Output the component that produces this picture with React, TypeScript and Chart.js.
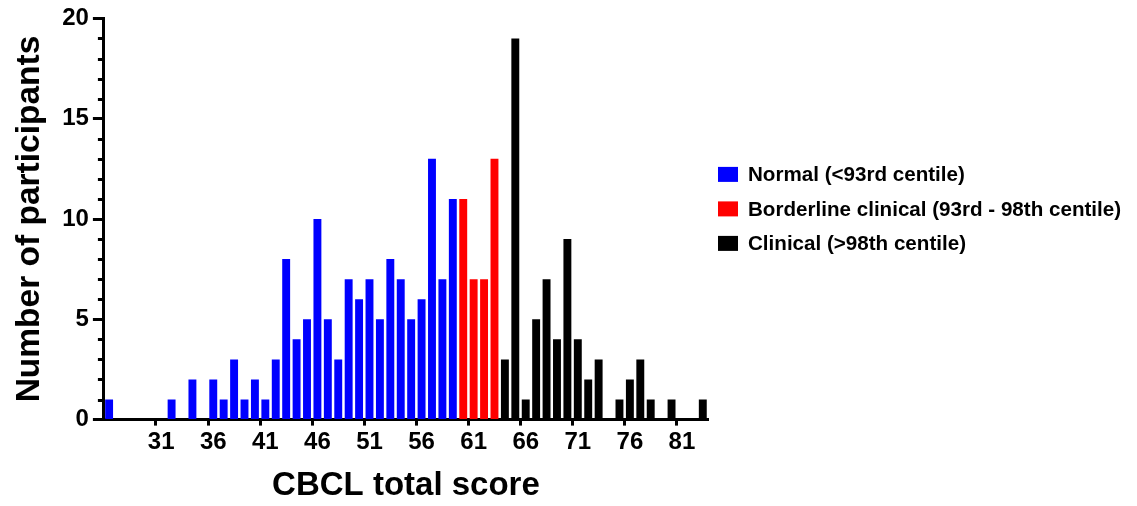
import React, { useEffect, useRef } from 'react';
import { Chart, registerables } from 'chart.js';

Chart.register(...registerables);

// Categories: CBCL total scores shown on the x axis
const scoreLabels = [
  '26', '27', '28', '29', '30', '31', '32', '33', '34', '35',
  '36', '37', '38', '39', '40', '41', '42', '43', '44', '45',
  '46', '47', '48', '49', '50', '51', '52', '53', '54', '55',
  '56', '57', '58', '59', '60', '61', '62', '63', '64', '65',
  '66', '67', '68', '69', '70', '71', '72', '73', '74', '75',
  '76', '77', '78', '79', '80', '81', '82', '83',
];

// Labelled x ticks
const xTickLabels = ['31', '36', '41', '46', '51', '56', '61', '66', '71', '76', '81'];

// Normal (<93rd centile)
const normalScores = ['26', '32', '34', '36', '37', '38', '39', '40', '41', '42', '43', '44', '45', '46', '47', '48', '49', '50', '51', '52', '53', '54', '55', '56', '57', '58', '59'];
const normalCounts = [1, 1, 2, 2, 1, 3, 1, 2, 1, 3, 8, 4, 5, 10, 5, 3, 7, 6, 7, 5, 8, 7, 5, 6, 13, 7, 11];

// Borderline clinical (93rd - 98th centile)
const borderlineScores = ['60', '61', '62', '63'];
const borderlineCounts = [11, 7, 7, 13];

// Clinical (>98th centile)
const clinicalScores = ['64', '65', '66', '67', '68', '69', '70', '71', '72', '73', '75', '76', '77', '78', '80', '83'];
const clinicalCounts = [3, 19, 1, 5, 7, 4, 9, 4, 2, 3, 1, 2, 3, 1, 1, 1];

// Y axis
const yMin = 0;
const yMax = 20;
const yMajorStep = 5;
const yMinorStep = 1;

const seriesNames = [
  'Normal (<93rd centile)',
  'Borderline clinical (93rd - 98th centile)',
  'Clinical (>98th centile)',
];
const seriesColors = ['#0000FF', '#FF0000', '#000000'];

const FONT = '"Liberation Sans", Arial, Helvetica, sans-serif';

const toPoints = (xs: string[], ys: number[]) => xs.map((x, i) => ({ x, y: ys[i] }));

const minorTicksPlugin = {
  id: 'minorTicks',
  afterDraw(chart: any) {
    const y = chart.scales.y;
    const ctx = chart.ctx;
    const left = chart.chartArea.left;
    ctx.save();
    ctx.strokeStyle = '#000';
    ctx.lineWidth = 3;
    for (let v = yMin; v <= yMax; v += yMinorStep) {
      if (v % yMajorStep === 0) continue;
      const py = Math.round(y.getPixelForValue(v)) + 0.5;
      ctx.beginPath();
      ctx.moveTo(left - 6, py);
      ctx.lineTo(left, py);
      ctx.stroke();
    }
    ctx.restore();
  },
};

const sideLegendPlugin = {
  id: 'sideLegend',
  afterDraw(chart: any) {
    const ctx = chart.ctx;
    const area = chart.chartArea;
    const x0 = area.right + 10;
    const y0 = area.top + 156;
    const rowGap = 34.5;
    ctx.save();
    ctx.font = `bold 20.6px ${FONT}`;
    ctx.textBaseline = 'middle';
    ctx.textAlign = 'left';
    chart.data.datasets.forEach((ds: any, i: number) => {
      const cy = y0 + i * rowGap;
      ctx.fillStyle = ds.backgroundColor;
      ctx.fillRect(x0, cy - 7.5, 20, 15);
      ctx.fillStyle = '#000';
      ctx.fillText(ds.label, x0 + 30, cy + 1);
    });
    ctx.restore();
  },
};

export default function App() {
  const canvasRef = useRef<HTMLCanvasElement | null>(null);

  useEffect(() => {
    if (!canvasRef.current) return;
    const datasets = [
      toPoints(normalScores, normalCounts),
      toPoints(borderlineScores, borderlineCounts),
      toPoints(clinicalScores, clinicalCounts),
    ].map((data, i) => ({
      label: seriesNames[i],
      data,
      backgroundColor: seriesColors[i],
      borderWidth: 0,
      barPercentage: 0.76,
      categoryPercentage: 1,
    }));

    const chart = new Chart(canvasRef.current, {
      type: 'bar',
      data: { labels: scoreLabels, datasets },
      plugins: [minorTicksPlugin, sideLegendPlugin],
      options: {
        animation: false,
        responsive: true,
        maintainAspectRatio: false,
        layout: { padding: { left: 10, right: 429, top: 4, bottom: 0 } },
        plugins: {
          legend: { display: false },
          tooltip: { enabled: false },
        },
        scales: {
          x: {
            type: 'category',
            stacked: true,
            offset: true,
            border: { display: true, color: '#000', width: 3 },
            grid: {
              drawOnChartArea: false,
              drawTicks: true,
              tickLength: 6,
              tickWidth: 3,
              tickColor: (c: any) =>
                c.tick && xTickLabels.includes(String(c.tick.label)) ? '#000' : 'rgba(0,0,0,0)',
            },
            ticks: {
              autoSkip: false,
              maxRotation: 0,
              minRotation: 0,
              padding: 2,
              color: '#000',
              font: { family: FONT, size: 24, weight: 'bold' },
              callback: function (this: any, value: any) {
                const lbl = this.getLabelForValue(value);
                return xTickLabels.includes(lbl) ? lbl : '';
              },
            },
            title: {
              display: true,
              text: 'CBCL total score',
              color: '#000',
              font: { family: FONT, size: 33, weight: 'bold' },
              padding: { top: 8, bottom: 0 },
            },
          },
          y: {
            stacked: true,
            min: yMin,
            max: yMax,
            border: { display: true, color: '#000', width: 3 },
            grid: {
              drawOnChartArea: false,
              drawTicks: true,
              tickLength: 11,
              tickWidth: 3,
              tickColor: '#000',
            },
            ticks: {
              stepSize: yMajorStep,
              padding: 4,
              color: '#000',
              font: { family: FONT, size: 24, weight: 'bold' },
            },
            title: {
              display: true,
              text: 'Number of participants',
              color: '#000',
              font: { family: FONT, size: 33.5, weight: 'bold' },
              padding: { top: 0, bottom: 8 },
            },
          },
        },
      },
    });
    return () => chart.destroy();
  }, []);

  return (
    <div style={{ position: 'absolute', left: 0, top: 0, width: 1137, height: 506, background: '#fff' }}>
      <canvas ref={canvasRef} />
    </div>
  );
}
